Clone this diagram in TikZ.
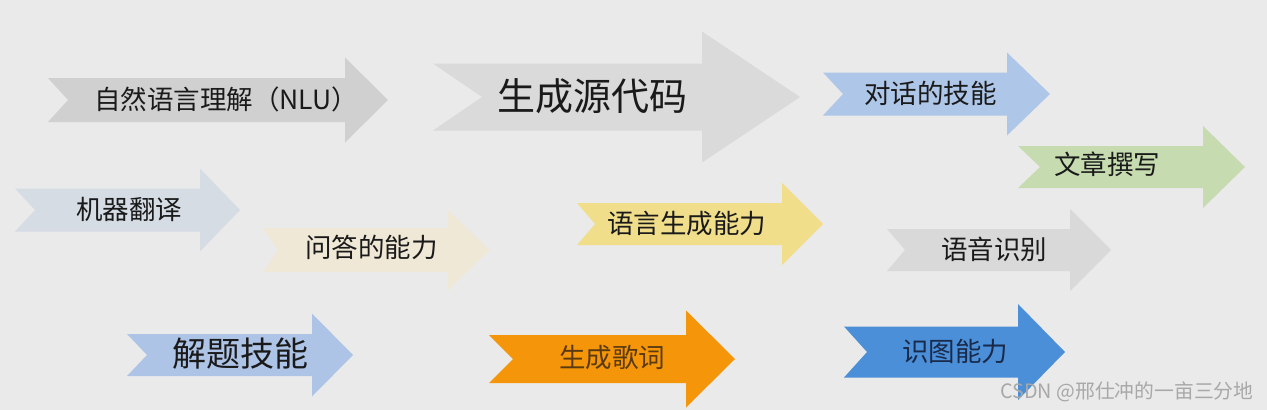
\documentclass[tikz,border=0pt]{standalone}
\usepackage{fontspec}
\setmainfont{Noto Sans CJK SC}
\definecolor{bgc}{HTML}{EAEAEA}
\definecolor{cgrayA}{HTML}{D0D0D0}
\definecolor{cgrayB}{HTML}{DADADA}
\definecolor{cblueL}{HTML}{AEC6E8}
\definecolor{cgreen}{HTML}{C6DBB0}
\definecolor{cbluegray}{HTML}{D5DCE4}
\definecolor{cbeige}{HTML}{EFE8D6}
\definecolor{cyellow}{HTML}{F0DE8A}
\definecolor{cgrayC}{HTML}{D9D9D9}
\definecolor{cblueM}{HTML}{AEC4E6}
\definecolor{corange}{HTML}{F5960A}
\definecolor{cblueD}{HTML}{4A8FD8}
\definecolor{txt}{HTML}{1A1A1A}
\definecolor{brownt}{HTML}{5A3A10}
\definecolor{navyt}{HTML}{1A2A4A}
\definecolor{wmark}{HTML}{A8A8A8}
% #1 colour, #2 left, #3 notch, #4 head start, #5 tip, #6 mid y, #7 half body, #8 half head
\newcommand\skarrow[8]{%
  \fill[#1] (#2,{#6-#7}) -- (#4,{#6-#7}) -- (#4,{#6-#8}) -- (#5,#6)
    -- (#4,{#6+#8}) -- (#4,{#6+#7}) -- (#2,{#6+#7}) -- (#3,#6) -- cycle;}
\tikzset{
  lbl/.style={anchor=west, inner sep=0pt, text=txt, font=\fontsize{26.5}{30}\selectfont},
  lblbig/.style={lbl, font=\fontsize{38}{42}\selectfont},
  lblmid/.style={lbl, font=\fontsize{34}{38}\selectfont},
}
\begin{document}
\begin{tikzpicture}[x=1pt,y=-1pt]
\fill[bgc] (0,0) rectangle (1267,410);
\useasboundingbox (0,0) rectangle (1267,410);
% arrows
\skarrow{cgrayA}{48}{68}{345}{388}{100}{22}{42.5}
\skarrow{cgrayB}{433}{482}{702}{800}{97}{33.5}{65.5}
\skarrow{cblueL}{823}{843}{1007}{1050}{94}{21.5}{41.5}
\skarrow{cgreen}{1018}{1040}{1203}{1245}{167}{21}{41}
\skarrow{cbluegray}{15}{35}{200}{240}{210}{21.5}{41.5}
\skarrow{cbeige}{263}{278}{448}{490}{250}{22}{40}
\skarrow{cyellow}{577}{595}{782}{823}{224}{21}{41}
\skarrow{cgrayC}{887}{905}{1070}{1111}{250}{21}{41}
\skarrow{cblueM}{127}{147}{312}{353}{355}{21}{41.5}
\skarrow{corange}{489}{513}{686}{735}{359}{24}{48.5}
\skarrow{cblueD}{844}{867}{1018}{1065}{352}{25.5}{48}
% labels
\node[lbl] (nlu) at (94,99) {自然语言理解（NLU）};
\node[lblbig] (code) at (497,96) {生成源代码};
\node[lbl] (dia) at (864,93) {对话的技能};
\node[lbl] (art) at (1054,164) {文章撰写};
\node[lbl] (mt) at (76,209) {机器翻译};
\node[lbl] (qa) at (305,247) {问答的能力};
\node[lbl] (gen) at (607,223) {语言生成能力};
\node[lbl] (asr) at (941,249) {语音识别};
\node[lblmid] (solve) at (172,354) {解题技能};
\node[lbl, text=brownt] (lyric) at (559,358) {生成歌词};
\node[lbl, text=navyt] (img) at (902,351) {识图能力};
\node[anchor=west, inner sep=0pt, text=wmark, font=\fontsize{19.8}{23}\selectfont] (wm) at (1000,392) {CSDN @邢仕冲的一亩三分地};
\end{tikzpicture}
\end{document}
